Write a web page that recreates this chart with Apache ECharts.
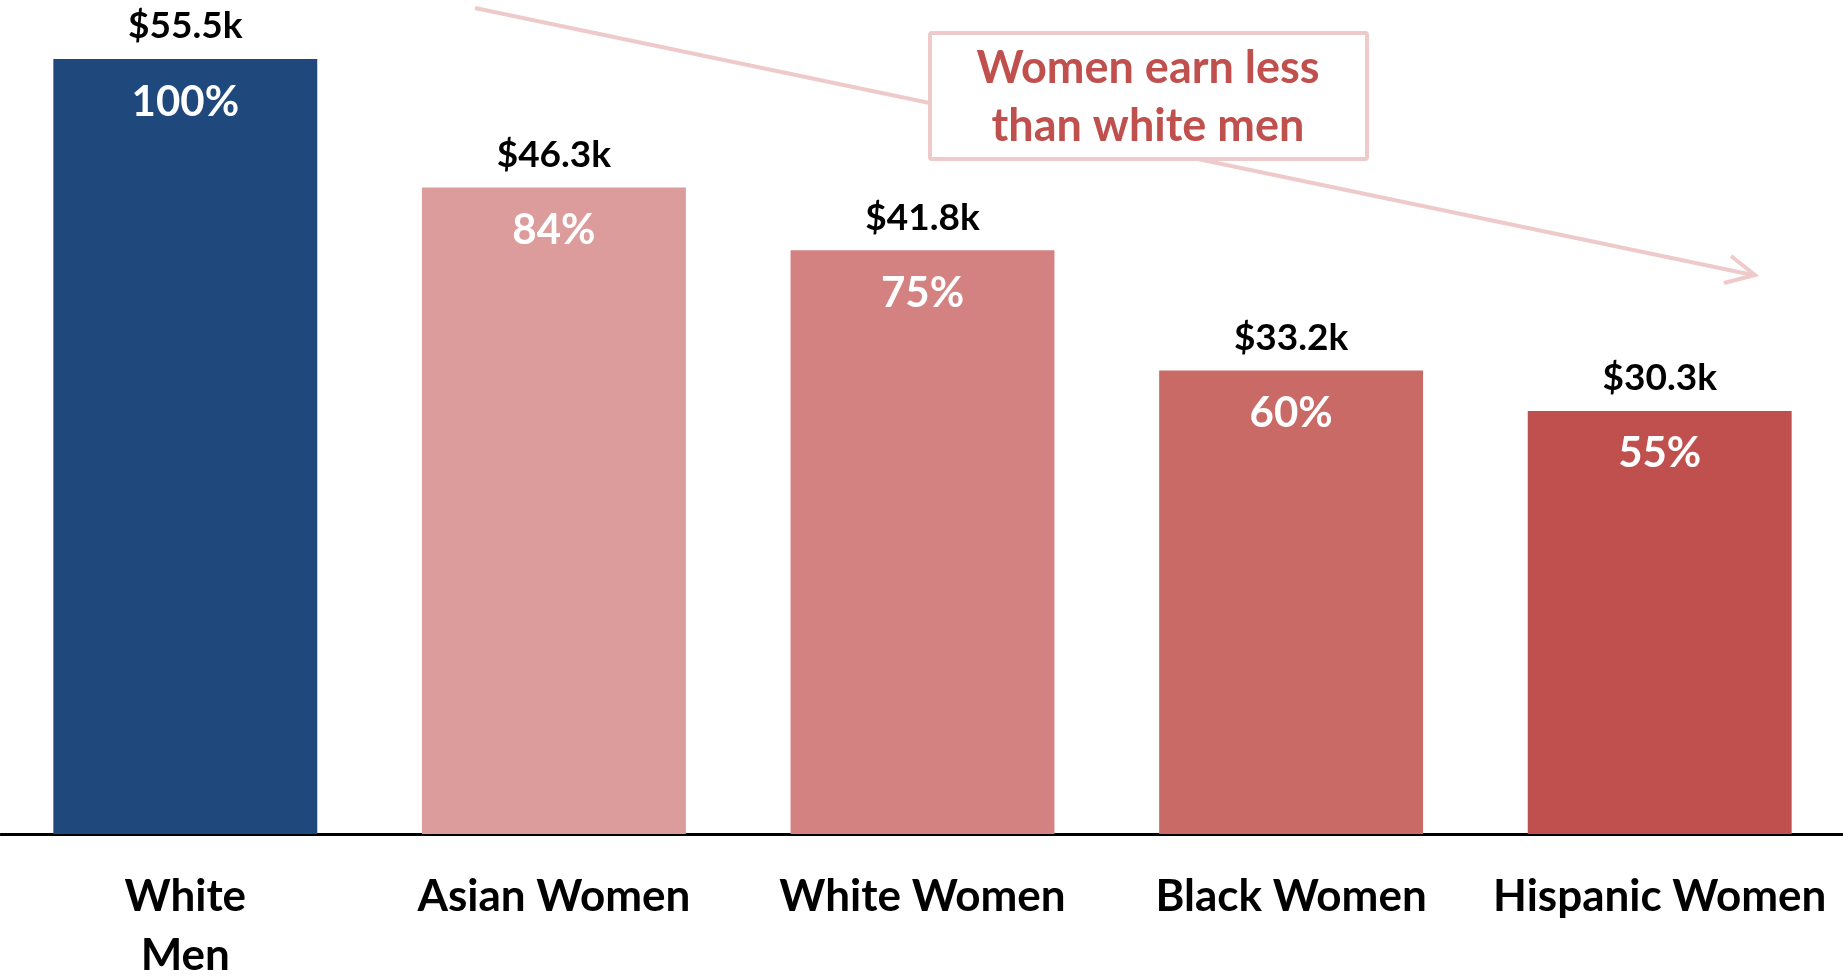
<!DOCTYPE html>
<html>
<head>
<meta charset="utf-8">
<script src="https://cdn.jsdelivr.net/npm/echarts@6/dist/echarts.min.js"></script>
<style>
  html, body { margin: 0; padding: 0; background: #fff; }
  #chart { width: 1843px; height: 976px; }
</style>
</head>
<body>
<div id="chart"></div>
<script>
// median earnings, thousands of dollars
var categories = ['White Men', 'Asian Women', 'White Women', 'Black Women', 'Hispanic Women'];
var earnings = [55.5, 46.3, 41.8, 33.2, 30.3];
var pctOfWhiteMen = [100, 84, 75, 60, 55];
var barColors = ['#1f497d', '#dc9c9b', '#d38181', '#c96a66', '#c0504e'];

var font = 'Lato, "Open Sans", sans-serif';

var chart = echarts.init(document.getElementById('chart'));

var option = {
  animation: false,
  grid: { left: 1, right: -1, top: 59, bottom: 142, outerBoundsMode: 'none', containLabel: false },
  xAxis: {
    type: 'category',
    data: categories,
    axisLine: { lineStyle: { color: '#000', width: 3 } },
    axisTick: { show: false },
    axisLabel: {
      interval: 0,
      margin: 33,
      color: '#000',
      fontFamily: font,
      fontWeight: 'bold',
      fontSize: 44,
      lineHeight: 59,
      formatter: function (v) { return v === 'White Men' ? 'White\nMen' : v; }
    }
  },
  yAxis: {
    type: 'value',
    min: 0,
    max: function (v) { return v.max; },
    show: false,
    splitLine: { show: false }
  },
  series: [
    {
      type: 'bar',
      barWidth: '71.6%',
      data: earnings.map(function (v, i) {
        return { value: v, itemStyle: { color: barColors[i] } };
      }),
      label: {
        show: true,
        position: 'top',
        distance: 14,
        color: '#000',
        fontFamily: font,
        fontWeight: 'bold',
        fontSize: 37,
        formatter: function (p) { return '$' + p.value.toFixed(1) + 'k'; }
      }
    },
    {
      // transparent overlay that carries the % label
      type: 'bar',
      barWidth: '71.6%',
      barGap: '-100%',
      silent: true,
      itemStyle: { color: 'rgba(0,0,0,0)' },
      data: earnings,
      label: {
        show: true,
        position: 'insideTop',
        distance: 22,
        color: '#fff',
        fontFamily: font,
        fontWeight: 'bold',
        fontSize: 42,
        formatter: function (p) { return pctOfWhiteMen[p.dataIndex] + '%'; }
      }
    }
  ],
  graphic: [
    {
      type: 'line',
      z: 10,
      shape: { x1: 475, y1: 8, x2: 1753, y2: 275 },
      style: { stroke: '#eecaca', lineWidth: 4 }
    },
    {
      type: 'polyline',
      z: 10,
      shape: { points: [[1731, 256], [1755, 275], [1724, 283]] },
      style: { stroke: '#eecaca', lineWidth: 4, fill: null }
    },
    {
      type: 'rect',
      z: 11,
      shape: { x: 930, y: 33, width: 437, height: 126, r: 2 },
      style: { fill: '#fff', stroke: '#eecaca', lineWidth: 4 }
    },
    {
      type: 'text',
      z: 12,
      x: 1148,
      y: 97,
      style: {
        text: 'Women earn less\nthan white men',
        fill: '#c0504d',
        font: 'bold 45px ' + font,
        lineHeight: 58,
        align: 'center',
        verticalAlign: 'middle'
      }
    }
  ]
};

chart.setOption(option);
</script>
</body>
</html>
